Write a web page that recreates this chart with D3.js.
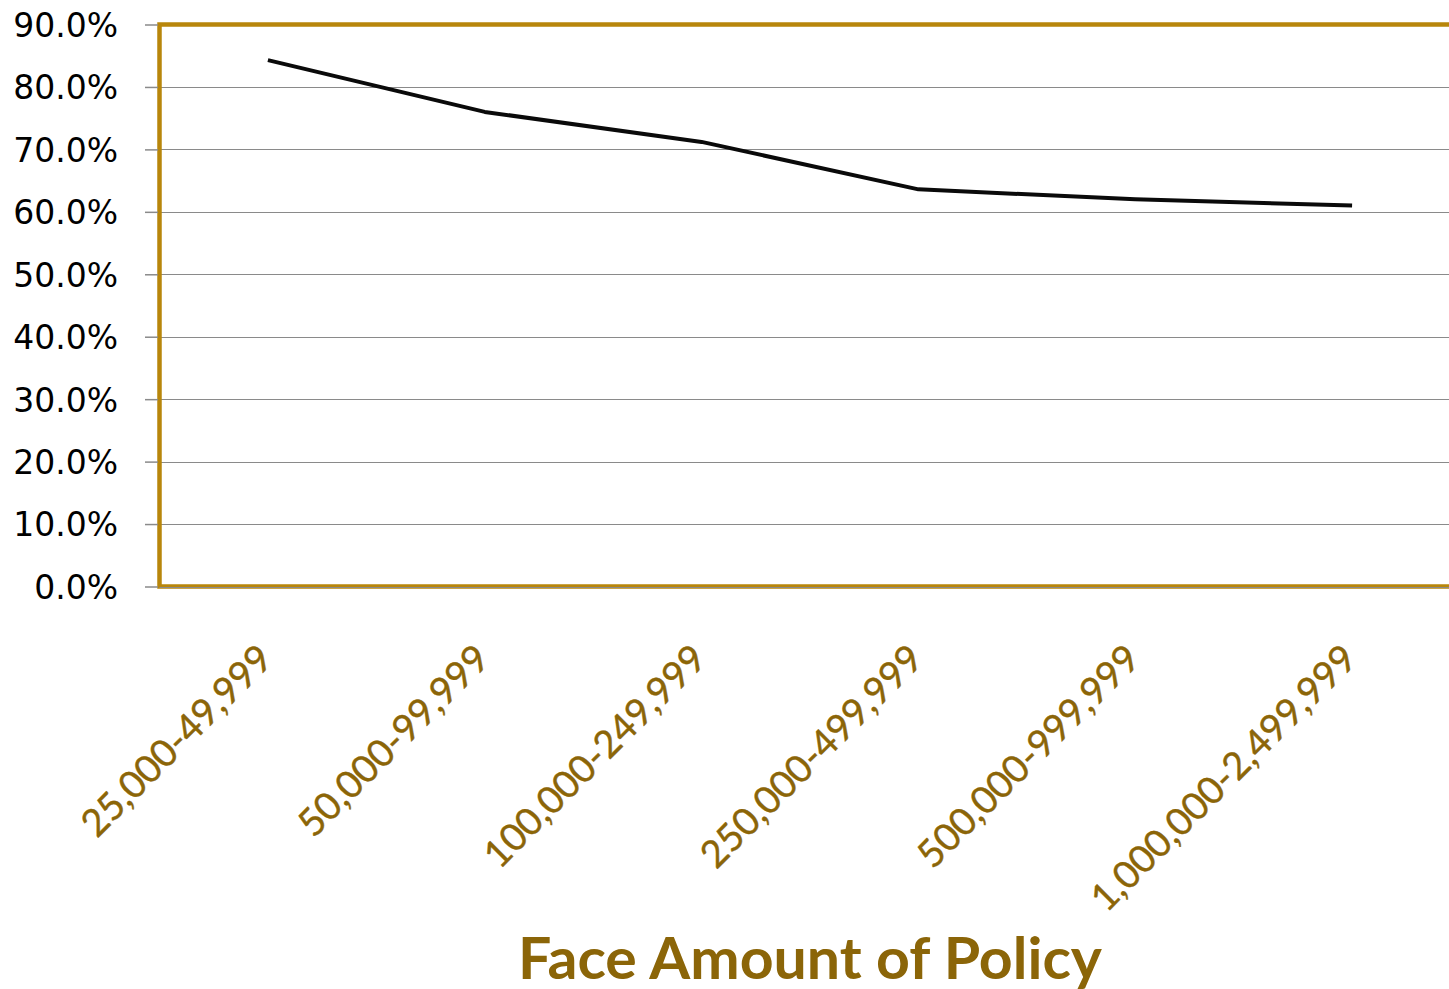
<!DOCTYPE html>
<html>
<head>
<meta charset="utf-8">
<script src="https://cdn.jsdelivr.net/npm/d3@7"></script>
<style>
  html, body { margin: 0; padding: 0; background: #ffffff; }
  svg { display: block; }
</style>
</head>
<body>
<svg id="chart" width="1449" height="989"></svg>
<script>
// Face amount bands and the share of policies for each band
const categories = [
  "25,000-49,999",
  "50,000-99,999",
  "100,000-249,999",
  "250,000-499,999",
  "500,000-999,999",
  "1,000,000-2,499,999"
];
const values = [0.843, 0.760, 0.712, 0.636, 0.620, 0.610];
const yTicks = [0, 0.1, 0.2, 0.3, 0.4, 0.5, 0.6, 0.7, 0.8, 0.9];
const xAxisTitle = "Face Amount of Policy";

const svg = d3.select("#chart");
const W = 1449;

// Plot box; it continues past the right edge of the page
const plot = { left: 159.5, top: 24.5, bottom: 586.5, width: 1301 };

const x = d3.scalePoint()
  .domain(categories)
  .range([plot.left, plot.left + plot.width])
  .padding(0.5);

const y = d3.scaleLinear()
  .domain([0, 0.9])
  .range([plot.bottom, plot.top]);

const gold = "#B8860B";
const brown = "#8B6508";
const grid = "#8a8a8a";

// Horizontal gridlines
svg.append("g")
  .selectAll("line")
  .data(yTicks.filter(d => d > 0 && d < 0.9))
  .join("line")
  .attr("x1", plot.left)
  .attr("x2", W)
  .attr("y1", d => Math.round(y(d)) + 0.5)
  .attr("y2", d => Math.round(y(d)) + 0.5)
  .attr("stroke", grid)
  .attr("stroke-width", 1);

// Plot area border (left, top, bottom)
const border = svg.append("g")
  .attr("fill", "none")
  .attr("stroke", gold)
  .attr("stroke-width", 4.5);
border.append("path")
  .attr("d", `M${W + 5},${plot.top} H${plot.left} V${plot.bottom} H${W + 5}`);

// Category axis line at zero
svg.append("line")
  .attr("x1", plot.left)
  .attr("x2", W)
  .attr("y1", Math.round(y(0)) + 0.5)
  .attr("y2", Math.round(y(0)) + 0.5)
  .attr("stroke", grid)
  .attr("stroke-width", 1);

// Value axis with percentage labels
const yAxis = d3.axisLeft(y)
  .tickValues(yTicks)
  .tickFormat(d3.format(".1%"))
  .tickSize(13)
  .tickPadding(27);

const gy = svg.append("g")
  .attr("transform", `translate(${plot.left - 1.5},0)`)
  .call(yAxis);
gy.select(".domain").remove();
gy.selectAll(".tick line")
  .attr("stroke", grid)
  .attr("stroke-width", 1.5);
gy.selectAll(".tick text")
  .attr("fill", "#000")
  .attr("font-family", "'DejaVu Sans', sans-serif")
  .attr("font-size", 33)
  .attr("dy", "0.36em");

// Rotated category labels
svg.append("g")
  .selectAll("text")
  .data(categories)
  .join("text")
  .attr("transform", d => `translate(${x(d) + 7},661) rotate(-45)`)
  .attr("text-anchor", "end")
  .attr("fill", brown)
  .attr("font-family", "Lato, 'Open Sans', sans-serif")
  .attr("font-size", 38)
  .attr("stroke", brown)
  .attr("stroke-width", 0.4)
  .text(d => d);

// Data line
const line = d3.line()
  .x((d, i) => x(categories[i]))
  .y(d => y(d));

svg.append("path")
  .datum(values)
  .attr("fill", "none")
  .attr("stroke", "#0a0a0a")
  .attr("stroke-width", 4)
  .attr("stroke-linejoin", "round")
  .attr("d", line);

// Axis title
svg.append("text")
  .attr("x", 810)
  .attr("y", 979)
  .attr("text-anchor", "middle")
  .attr("fill", brown)
  .attr("font-family", "Lato, 'Open Sans', sans-serif")
  .attr("font-weight", "bold")
  .attr("font-size", 58)
  .attr("textLength", 584)
  .attr("lengthAdjust", "spacingAndGlyphs")
  .text(xAxisTitle);
</script>
</body>
</html>
